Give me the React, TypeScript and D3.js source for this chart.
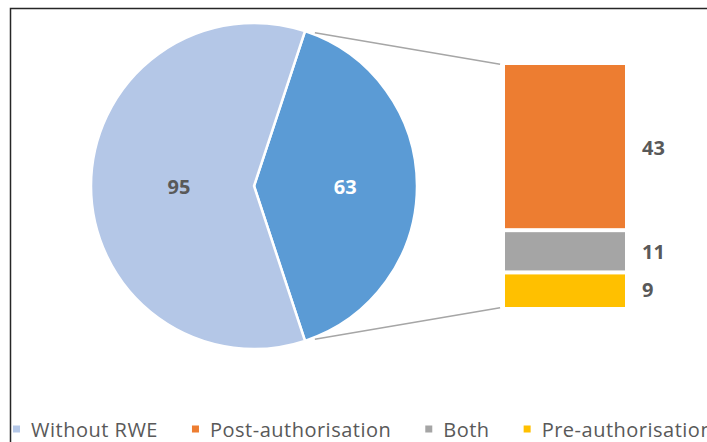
import React, { useEffect, useRef } from "react";
import * as d3 from "d3";

const pieCategories = ["Without RWE", "With RWE"];
const pieValues = [95, 63];
const barCategories = ["Post-authorisation", "Both", "Pre-authorisation"];
const barValues = [43, 11, 9];
const legendCategories = ["Without RWE", "Post-authorisation", "Both", "Pre-authorisation"];

const COLORS: Record<string, string> = {
  "Without RWE": "#b4c7e7",
  "With RWE": "#5b9bd5",
  "Post-authorisation": "#ed7d31",
  Both: "#a5a5a5",
  "Pre-authorisation": "#ffc000",
};

const W = 707;
const H = 442;
const FONT = "'Open Sans', 'Noto Sans', sans-serif";
const TEXT = "#595959";

export default function App() {
  const ref = useRef<SVGSVGElement>(null);

  useEffect(() => {
    const svg = d3.select(ref.current);
    svg.selectAll("*").remove();

    // frame (left + top border only visible)
    svg
      .append("path")
      .attr("d", `M10.5,${H} V8.5 H${W}`)
      .attr("fill", "none")
      .attr("stroke", "#262626")
      .attr("stroke-width", 1.5);

    // ---- Pie ----
    const cx = 254;
    const cy = 186;
    const r = 163;
    const total = d3.sum(pieValues);
    const half = Math.PI * (pieValues[1] / total);
    const start = Math.PI / 2 - half;
    const pie = d3
      .pie<{ cat: string; v: number }>()
      .value((d) => d.v)
      .sort(null)
      .startAngle(start)
      .endAngle(start + 2 * Math.PI);
    const pieData = [
      { cat: pieCategories[1], v: pieValues[1] },
      { cat: pieCategories[0], v: pieValues[0] },
    ];
    const arcs = pie(pieData);
    const arc = d3.arc<d3.PieArcDatum<{ cat: string; v: number }>>().innerRadius(0).outerRadius(r);
    const g = svg.append("g").attr("transform", `translate(${cx},${cy})`);
    g.selectAll("path.slice")
      .data(arcs)
      .join("path")
      .attr("class", "slice")
      .attr("d", arc as any)
      .attr("fill", (d) => COLORS[d.data.cat])
      .attr("stroke", "#fff")
      .attr("stroke-width", 2.5)
      .attr("stroke-linejoin", "miter");

    const labelFactor: Record<string, number> = { "With RWE": 0.56, "Without RWE": 0.46 };
    g.selectAll("text.pl")
      .data(arcs)
      .join("text")
      .attr("class", "pl")
      .attr("x", (d) => {
        const m = (d.startAngle + d.endAngle) / 2;
        return Math.sin(m) * r * labelFactor[d.data.cat];
      })
      .attr("y", (d) => {
        const m = (d.startAngle + d.endAngle) / 2;
        return -Math.cos(m) * r * labelFactor[d.data.cat];
      })
      .attr("text-anchor", "middle")
      .attr("dominant-baseline", "central")
      .attr("font-family", FONT)
      .attr("font-weight", 700)
      .attr("font-size", 20)
      .attr("fill", (d) => (d.data.cat === "With RWE" ? "#fff" : TEXT))
      .text((d) => d.data.v);

    // ---- Bar of pie ----
    const barX = 505;
    const barW = 120;
    const barTotal = d3.sum(barValues);
    const y = d3.scaleLinear().domain([0, barTotal]).range([307, 65]);
    // stack bottom-up: Pre, Both, Post
    const order = [2, 1, 0];
    let acc = 0;
    const segs = order.map((i, k) => {
      const s = { cat: barCategories[i], v: barValues[i], y0: acc, y1: acc + barValues[i], bottom: k === 0, top: k === order.length - 1 };
      acc += barValues[i];
      return s;
    });
    const gap = 2;
    svg
      .selectAll("rect.seg")
      .data(segs)
      .join("rect")
      .attr("class", "seg")
      .attr("x", barX)
      .attr("width", barW)
      .attr("y", (d) => y(d.y1) + (d.top ? 0 : gap))
      .attr("height", (d) => y(d.y0) - y(d.y1) - (d.top ? 0 : gap) - (d.bottom ? 0 : gap))
      .attr("fill", (d) => COLORS[d.cat]);

    svg
      .selectAll("text.bl")
      .data(segs)
      .join("text")
      .attr("class", "bl")
      .attr("x", barX + barW + 17)
      .attr("y", (d) => (y(d.y0) + y(d.y1)) / 2)
      .attr("dominant-baseline", "central")
      .attr("font-family", FONT)
      .attr("font-weight", 700)
      .attr("font-size", 20)
      .attr("fill", TEXT)
      .text((d) => d.v);

    // ---- Connector lines ----
    const pTop = [cx + r * Math.sin(start), cy - r * Math.cos(start)];
    const endA = start + 2 * half;
    const pBot = [cx + r * Math.sin(endA), cy - r * Math.cos(endA)];
    const conns = [
      [pTop, [barX, y(barTotal)]],
      [pBot, [barX, y(0)]],
    ];
    conns.forEach(([a, b]) => {
      const dx = b[0] - a[0];
      const dy = b[1] - a[1];
      const len = Math.hypot(dx, dy);
      const t0 = 10 / len;
      const t1 = 1 - 5 / len;
      svg
        .append("line")
        .attr("x1", a[0] + dx * t0)
        .attr("y1", a[1] + dy * t0)
        .attr("x2", a[0] + dx * t1)
        .attr("y2", a[1] + dy * t1)
        .attr("stroke", "#a6a6a6")
        .attr("stroke-width", 1.5);
    });

    // ---- Legend ----
    const lg = svg.append("g");
    let x = 13;
    const ly = 437;
    const ms = 7;
    legendCategories.forEach((c) => {
      lg.append("rect")
        .attr("x", x)
        .attr("y", ly - 11.5)
        .attr("width", ms)
        .attr("height", ms)
        .attr("fill", COLORS[c]);
      const t = lg
        .append("text")
        .attr("x", x + ms + 11)
        .attr("y", ly)
        .attr("font-family", FONT)
        .attr("font-size", 20)
        .attr("letter-spacing", 0.5)
        .attr("fill", TEXT)
        .text(c);
      const w = (t.node() as SVGTextElement).getComputedTextLength();
      x = x + ms + 11 + w + 34;
    });
  }, []);

  return (
    <svg
      ref={ref}
      width={W}
      height={H}
      style={{ position: "absolute", left: 0, top: 0, background: "#fff" }}
    />
  );
}
